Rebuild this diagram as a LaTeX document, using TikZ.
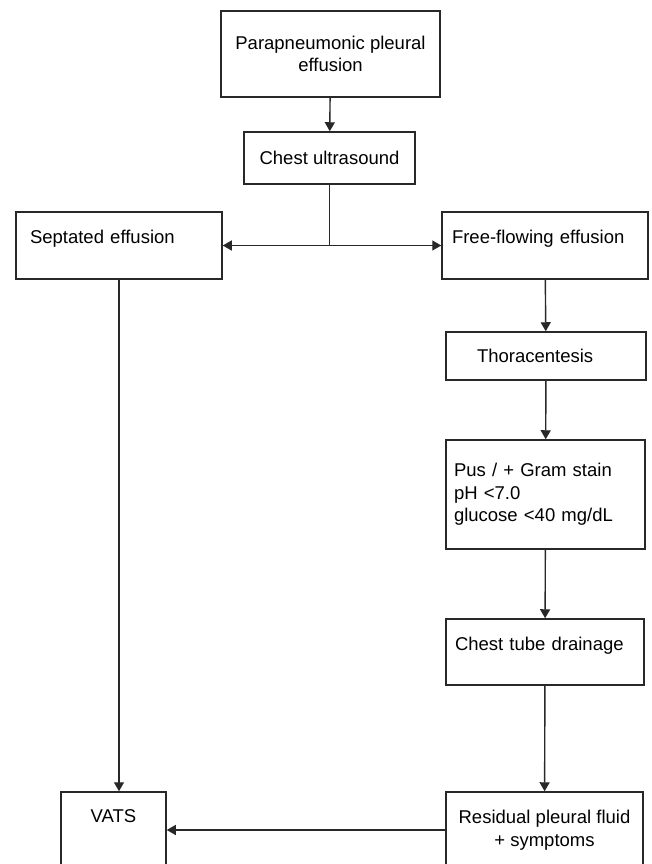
\documentclass[tikz,border=0pt]{standalone}
\usepackage{fontspec}
\setmainfont{Liberation Sans}
\usetikzlibrary{arrows.meta}
\definecolor{lineGray}{RGB}{40,40,40}

\begin{document}
\begin{tikzpicture}[x=1pt, y=-1pt,
        box/.style={draw=lineGray, line width=1.5pt, inner sep=0pt, font=\fontsize{18.5pt}{22.5pt}\selectfont},
        link/.style={draw=lineGray, line width=1.4pt},
        arr/.style={link, -{Triangle[length=9pt,width=10pt]}},
        lift/.style={text depth=#1}]
        \useasboundingbox (0,0) rectangle (652,864);
        \clip (0,0) rectangle (652,864);
        %\draw[step=50, gray, very thin] (0,0) grid (652,864);
        \node[box, minimum width=219pt, minimum height=86pt, align=center] (para) at (330.5,54) {Parapneumonic pleural\\effusion};
        \node[box, minimum width=171pt, minimum height=52pt] (ultra) at (329.5,158) {Chest ultrasound};
        \node[box, minimum height=67pt, text width=178pt, inner xsep=14pt, align=left, lift=17pt] (sept) at (119,245.5) {Septated effusion};
        \node[box, minimum height=67pt, text width=186pt, inner xsep=10pt, align=left, lift=17pt] (free) at (545,245.5) {Free-flowing effusion};
        \node[box, minimum height=48pt, text width=138pt, inner xsep=31pt, align=left] (thora) at (546,356) {Thoracentesis};
        \node[box, minimum height=109pt, text width=183pt, inner xsep=8pt, align=left] (pus) at (545.5,494.5) {Pus / + Gram stain\\pH <7.0\\glucose <40 mg/dL};
        \node[box, minimum height=66pt, text width=180pt, inner xsep=9pt, align=left, lift=17pt] (tube) at (545,652) {Chest tube drainage};
        \node[box, minimum width=105pt, minimum height=76pt, lift=27pt] (vats) at (113.5,830) {VATS};
        \node[box, minimum width=197pt, minimum height=76pt, align=center] (resid) at (544.5,830) {Residual pleural fluid\\+ symptoms};
        % connectors
        \coordinate (split) at (ultra.south |- sept.east);
        \draw[arr] (para) -- (ultra);
        \draw[link] (ultra) -- (split);
        \draw[arr] (split) -- (sept);
        \draw[arr] (split) -- (free);
        \draw[arr] (sept.south) -- (sept.south |- vats.north);
        \draw[arr] (free) -- (thora);
        \draw[arr] (thora) -- (pus);
        \draw[arr] (pus) -- (tube);
        \draw[arr] (tube) -- (resid);
        \draw[arr] (resid) -- (vats);
    \end{tikzpicture}
\end{document}
